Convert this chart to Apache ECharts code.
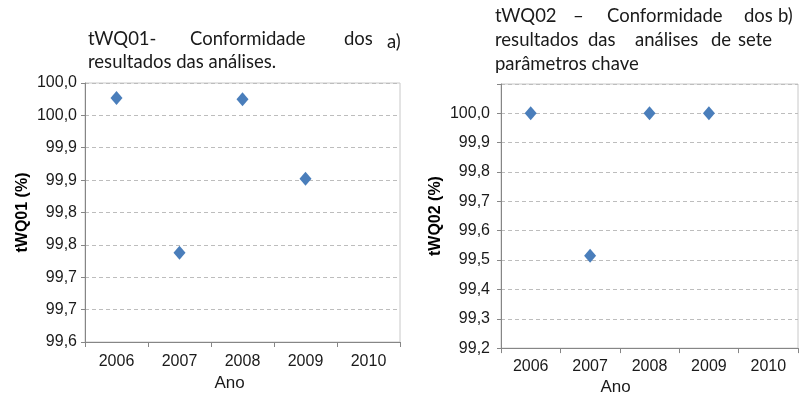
<!DOCTYPE html>
<html><head><meta charset="utf-8">
<script src="https://cdn.jsdelivr.net/npm/echarts@6/dist/echarts.min.js"></script>
<style>html,body{margin:0;padding:0;background:#fff}#c{width:807px;height:401px}</style>
</head><body><div id="c"></div>
<script>
const years = ['2006','2007','2008','2009','2010'];
const tWQ01 = [99.977, 99.738, 99.975, 99.852, null];
const tWQ02 = [100.0, 99.515, 100.0, 100.0, null];
const yTicksA = ['99,6','99,7','99,7','99,8','99,8','99,9','99,9','100,0','100,0'];
const yTicksB = ['99,2','99,3','99,4','99,5','99,6','99,7','99,8','99,9','100,0',''];
const axisA = {min: 99.6, max: 100.0, interval: 0.05};
const axisB = {min: 99.2, max: 100.1, interval: 0.1};

const chart = echarts.init(document.getElementById('c'), null, {renderer:'canvas'});
const tickFont = {fontFamily:'Liberation Sans, Arial', fontSize:16, color:'#1a1a1a'};
const titleFont = {fontFamily:'Lato, Open Sans', fontSize:18.5, fill:'#1a1a1a'};
function lbl(arr, ax){ return v => { const i = Math.round((v - ax.min)/ax.interval); return arr[i] !== undefined ? arr[i] : ''; }; }
function word(t, x, y){ return {type:'text', left:x, top:y, style:Object.assign({text:t}, titleFont)}; }

const xCommon = {
  type:'category', data: years, boundaryGap:true,
  axisLine:{lineStyle:{color:'#868686', width:1}},
  axisTick:{show:true, length:5, inside:false, lineStyle:{color:'#868686'}},
  axisLabel:Object.assign({}, tickFont, {margin:12}),
  splitLine:{show:false},
  nameLocation:'middle',
};
const yCommon = {
  type:'value',
  axisLine:{show:true, lineStyle:{color:'#868686'}},
  axisTick:{show:true, length:4, lineStyle:{color:'#868686'}},
  splitLine:{show:true, lineStyle:{color:'#bdbdbd', type:[4,3], width:1}},
  nameLocation:'middle', nameRotate:90,
  nameTextStyle:{fontFamily:'Liberation Sans, Arial', fontSize:16, fontWeight:'bold', color:'#000'}
};

chart.setOption({
  animation:false,
  backgroundColor:'#fff',
  grid:[
    {left:85, top:83, width:315, height:259, show:true, borderColor:'#c8c8c8', borderWidth:1, backgroundColor:'transparent'},
    {left:501, top:84, width:297, height:269, show:true, borderColor:'#c8c8c8', borderWidth:1, backgroundColor:'transparent'}
  ],
  xAxis:[
    Object.assign({}, xCommon, {gridIndex:0, name:'Ano', nameGap:31,
      nameTextStyle:{fontFamily:'Liberation Sans, Arial', fontSize:17, color:'#1a1a1a', padding:[0,26,0,0]}}),
    Object.assign({}, xCommon, {gridIndex:1, name:'Ano', nameGap:29,
      axisLabel:Object.assign({}, tickFont, {margin:10}),
      nameTextStyle:{fontFamily:'Liberation Sans, Arial', fontSize:17, color:'#1a1a1a', padding:[0,68,0,0]}})
  ],
  yAxis:[
    Object.assign({}, yCommon, {gridIndex:0, min:axisA.min, max:axisA.max, interval:axisA.interval,
      name:'tWQ01 (%)', nameGap:54,
      axisLabel:Object.assign({}, tickFont, {margin:8, formatter:lbl(yTicksA, axisA)})}),
    Object.assign({}, yCommon, {gridIndex:1, min:axisB.min, max:axisB.max, interval:axisB.interval,
      name:'tWQ02 (%)', nameGap:57,
      axisLabel:Object.assign({}, tickFont, {margin:11, formatter:lbl(yTicksB, axisB)})})
  ],
  series:[
    {type:'scatter', xAxisIndex:0, yAxisIndex:0, data:tWQ01, symbol:'diamond', symbolSize:[12,14],
      itemStyle:{color:'#4a7ebb', opacity:1}},
    {type:'scatter', xAxisIndex:1, yAxisIndex:1, data:tWQ02, symbol:'diamond', symbolSize:[12,14],
      itemStyle:{color:'#4a7ebb', opacity:1}}
  ],
  graphic:[
    word('tWQ01-', 88, 30), word('Conformidade', 190, 30), word('dos', 344, 30),
    word('resultados das análises.', 88, 53), word('a)', 387, 33),
    word('tWQ02', 495, 7), word('–', 573, 7), word('Conformidade', 607, 7), word('dos', 744, 7), word('b)', 778, 7),
    word('resultados', 495, 31), word('das', 588, 31), word('análises', 635, 31), word('de', 711, 31), word('sete', 738, 31),
    word('parâmetros chave', 495, 55)
  ]
});
</script></body></html>
